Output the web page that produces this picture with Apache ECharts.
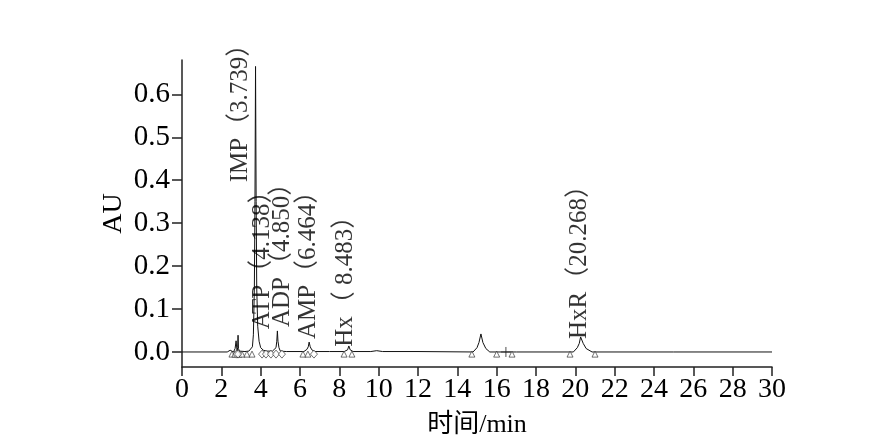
<!DOCTYPE html>
<html>
<head>
<meta charset="utf-8">
<script src="https://cdn.jsdelivr.net/npm/echarts@6/dist/echarts.min.js"></script>
<style>html,body{margin:0;padding:0;background:#fff}#c{width:872px;height:443px}</style>
</head>
<body>
<div id="c"></div>
<script>
// chromatogram trace: retention time (min)
const traceTime = [0, 2.3, 2.45, 2.5, 2.55, 2.62, 2.7, 2.75, 2.8, 2.83, 2.85, 2.87, 2.92, 3.0, 3.2, 3.4, 3.5, 3.58, 3.63, 3.68, 3.71, 3.739, 3.77, 3.8, 3.85, 3.92, 4.0, 4.138, 4.3, 4.6, 4.7, 4.78, 4.82, 4.85, 4.88, 4.93, 5.0, 5.3, 6.0, 6.2, 6.35, 6.42, 6.464, 6.52, 6.6, 6.75, 7.5, 8.25, 8.42, 8.483, 8.55, 8.7, 9.6, 9.9, 10.2, 12, 14.8, 15.0, 15.1, 15.2, 15.3, 15.45, 15.65, 17, 19.9, 20.1, 20.2, 20.268, 20.4, 20.55, 20.85, 25, 30];
// chromatogram trace: absorbance (AU)
const traceAU = [0, 0, 0.004, 0, 0.006, 0, 0.008, 0.026, 0.002, 0.01, 0.039, 0.008, 0.002, 0.004, 0.001, 0.002, 0.003, 0.012, 0.04, 0.15, 0.35, 0.665, 0.35, 0.15, 0.06, 0.025, 0.01, 0.004, 0.002, 0.002, 0.003, 0.01, 0.025, 0.049, 0.025, 0.01, 0.002, 0.001, 0.001, 0.001, 0.006, 0.012, 0.023, 0.012, 0.005, 0.001, 0.001, 0.001, 0.005, 0.014, 0.005, 0.001, 0.001, 0.003, 0.001, 0.001, 0.0, 0.01, 0.022, 0.042, 0.022, 0.008, 0.0, 0.0, 0.0, 0.01, 0.02, 0.035, 0.02, 0.008, 0.0, 0.0, 0.0];

// integration markers (baseline points)
const triangleTimes = [2.54, 2.69, 2.9, 3.05, 3.3, 3.56, 6.15, 6.4, 8.24, 8.64, 14.74, 16.0, 16.78, 19.73, 21.0];
const diamondTimes = [2.77, 2.85, 4.07, 4.27, 4.52, 4.78, 5.08, 6.71];
const crossTimes = [16.47];

// peak annotations
const peakNames = ['IMP（3.739）', 'ATP（4.138）', 'ADP（4.850）', 'AMP（6.464）', 'Hx（ 8.483）', 'HxR（20.268）'];
const peakLabelTime = [2.95, 4.07, 5.13, 6.41, 8.29, 20.23];
const peakLabelAU = [0.395, 0.053, 0.058, 0.030, 0.012, 0.030];

const yTicks = [0, 0.1, 0.2, 0.3, 0.4, 0.5, 0.6];

const serif = '"Liberation Serif", "Noto Sans CJK SC", serif';
const ink = '#000';

const chart = echarts.init(document.getElementById('c'));
chart.setOption({
  animation: false,
  backgroundColor: '#fff',
  grid: { left: 182, right: 100, top: 60, bottom: 75 },
  xAxis: {
    type: 'value', min: 0, max: 30, interval: 2,
    name: '时间/min', nameLocation: 'middle', nameGap: 45, nameMoveOverlap: false,
    nameTextStyle: { fontFamily: serif, fontSize: 26, color: ink },
    axisLine: { show: true, onZero: false, lineStyle: { color: '#222', width: 1.5 } },
    axisTick: { show: true, length: 9, lineStyle: { color: '#222', width: 1.5 } },
    axisLabel: { fontFamily: serif, fontSize: 28, color: ink, margin: 9 },
    splitLine: { show: false }
  },
  yAxis: {
    type: 'value', min: -0.035, max: 0.68,
    name: 'AU', nameLocation: 'middle', nameGap: 54, nameRotate: 90, nameMoveOverlap: false,
    nameTextStyle: { fontFamily: serif, fontSize: 28, color: ink },
    axisLine: { show: true, onZero: false, lineStyle: { color: '#222', width: 1.5 } },
    axisTick: { show: true, length: 10, customValues: yTicks, lineStyle: { color: '#222', width: 1.5 } },
    axisLabel: { fontFamily: serif, fontSize: 29, color: ink, margin: 12, customValues: yTicks,
      formatter: v => v.toFixed(1) },
    splitLine: { show: false }
  },
  series: [
    {
      type: 'line', data: traceTime.map((t, i) => [t, traceAU[i]]),
      showSymbol: false, symbol: 'none', smooth: false,
      lineStyle: { color: '#111', width: 1 }, z: 3
    },
    {
      type: 'scatter', data: triangleTimes.map(t => [t, -0.005]),
      symbol: 'triangle', symbolSize: 6,
      itemStyle: { color: '#fff', borderColor: '#222', borderWidth: 0.8 }, z: 4
    },
    {
      type: 'scatter', data: diamondTimes.map(t => [t, -0.005]),
      symbol: 'diamond', symbolSize: [7, 8],
      itemStyle: { color: '#fff', borderColor: '#222', borderWidth: 0.8 }, z: 4
    },
    {
      type: 'scatter', data: crossTimes.map(t => [t, 0]),
      symbol: 'path://M5,0 L5,10 M0,5 L10,5', symbolSize: 10,
      itemStyle: { color: 'none', borderColor: '#222', borderWidth: 1 }, z: 4
    },
    {
      type: 'scatter', data: peakLabelTime.map((t, i) => [t, peakLabelAU[i]]),
      symbolSize: 0, silent: true,
      label: {
        show: true, position: 'inside', rotate: 90, align: 'left', verticalAlign: 'middle',
        formatter: p => peakNames[p.dataIndex],
        fontFamily: serif, fontSize: 25, color: ink
      }, z: 5
    }
  ]
});
</script>
</body>
</html>
